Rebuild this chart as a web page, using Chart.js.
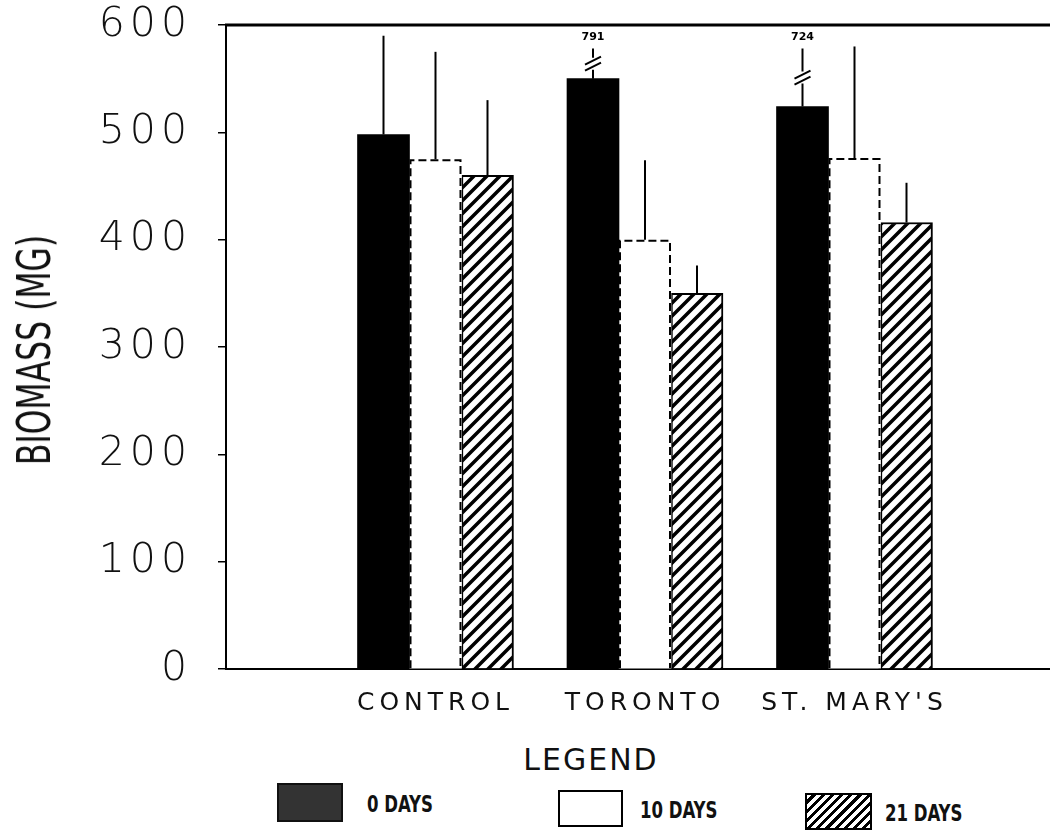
<!DOCTYPE html>
<html>
<head>
<meta charset="utf-8">
<script src="https://cdn.jsdelivr.net/npm/chart.js@4.4.0/dist/chart.umd.min.js"></script>
<style>
  html, body { margin: 0; padding: 0; background: #fff; overflow: hidden; }
  #wrap { position: relative; width: 1050px; height: 835px; overflow: hidden; }
  #graph { position: absolute; left: 0; top: 0; }
  .ytitle {
    position: absolute; left: 34px; top: 350px;
    transform: translate(-50%, -50%) rotate(-90deg) scaleX(0.76);
    font-family: 'Liberation Sans Narrow', 'DejaVu Sans Condensed', sans-serif;
    font-size: 46px; white-space: nowrap; color: #111;
  }
  .lg-title {
    position: absolute; left: 591px; top: 759px; transform: translate(-50%, -50%);
    font-family: 'DejaVu Sans', sans-serif; font-size: 30px; letter-spacing: 2px; color: #111;
  }
  .box { position: absolute; box-sizing: border-box; }
  .lg-text {
    position: absolute; transform: translateY(-50%) scaleX(0.8); transform-origin: left center;
    font-family: 'Liberation Sans Narrow', 'DejaVu Sans Condensed', sans-serif;
    font-weight: bold; font-size: 23px; color: #111; white-space: nowrap;
  }
</style>
</head>
<body>
<div id="wrap">
  <canvas id="graph" width="1080" height="740"></canvas>
  <div class="ytitle">BIOMASS (MG)</div>
  <div class="lg-title">LEGEND</div>
  <div class="box" style="left:277px; top:783px; width:66px; height:39px; background:#333; border:2px solid #111;"></div>
  <div class="lg-text" style="left:367px; top:804px;">0 DAYS</div>
  <div class="box" style="left:558px; top:790px; width:65px; height:37px; background:#fff; border:2px solid #000;"></div>
  <div class="lg-text" style="left:640px; top:810px;">10 DAYS</div>
  <div class="box" style="left:805px; top:793px; width:67px; height:37px; border:2px solid #000;
       background: repeating-linear-gradient(135deg, #fff 0 3.5px, #000 3.5px 6.5px);"></div>
  <div class="lg-text" style="left:885px; top:813px;">21 DAYS</div>
</div>
<script>
// categories and series
const categories = ['CONTROL', 'TORONTO', "ST. MARY'S"];
const seriesNames = ['0 DAYS', '10 DAYS', '21 DAYS'];
const days0 = [498, 550, 524];
const days10 = [475, 400, 476];
const days21 = [460, 350, 416];
// top of the error bar for each bar
const err0 = [590, 791, 724];
const err10 = [575, 474, 580];
const err21 = [530, 376, 453];
const yTicks = [0, 100, 200, 300, 400, 500, 600];

// empty slot at each end so the groups sit where they do in the figure
const labels = ['', ...categories, ''];
const pad = arr => [null, ...arr, null];

// diagonal hatch for the 21 day bars
function makeHatch() {
  const s = 13;
  const c = document.createElement('canvas');
  c.width = s; c.height = s;
  const g = c.getContext('2d');
  g.fillStyle = '#fff';
  g.fillRect(0, 0, s, s);
  g.strokeStyle = '#000';
  g.lineWidth = 3.5;
  g.beginPath();
  g.moveTo(-3, s + 3); g.lineTo(s + 3, -3);
  g.moveTo(-3, 3); g.lineTo(3, -3);
  g.moveTo(s - 3, s + 3); g.lineTo(s + 3, s - 3);
  g.stroke();
  return g.createPattern(c, 'repeat');
}

const data = {
  labels: labels,
  datasets: [
    {
      label: seriesNames[0],
      data: pad(days0),
      errTop: pad(err0),
      backgroundColor: '#000',
      borderWidth: 0
    },
    {
      label: seriesNames[1],
      data: pad(days10),
      errTop: pad(err10),
      backgroundColor: '#fff',
      borderWidth: 0,
      dashed: true
    },
    {
      label: seriesNames[2],
      data: pad(days21),
      errTop: pad(err21),
      backgroundColor: makeHatch(),
      borderColor: '#000',
      borderWidth: 2,
      borderSkipped: 'bottom'
    }
  ]
};

// wide letter spacing for the axis labels only
const spacing = {
  id: 'spacing',
  beforeDraw(chart) { chart.ctx.letterSpacing = '5px'; },
  beforeDatasetsDraw(chart) { chart.ctx.letterSpacing = '0px'; }
};

// frame line along the top
const topLine = {
  id: 'topLine',
  beforeDatasetsDraw(chart) {
    const { ctx, chartArea } = chart;
    ctx.save();
    ctx.strokeStyle = '#000';
    ctx.lineWidth = 3;
    ctx.beginPath();
    ctx.moveTo(chartArea.left - 1, chartArea.top);
    ctx.lineTo(chartArea.right, chartArea.top);
    ctx.stroke();
    ctx.restore();
  }
};

// dashed outline on the 10 day bars, then the error bars
const errorBars = {
  id: 'errorBars',
  afterDatasetsDraw(chart) {
    const ctx = chart.ctx;
    const y = chart.scales.y;
    ctx.save();
    ctx.strokeStyle = '#000';

    chart.data.datasets.forEach((ds, di) => {
      const meta = chart.getDatasetMeta(di);
      meta.data.forEach((bar, i) => {
        if (ds.data[i] == null) return;
        const half = bar.width / 2;

        if (ds.dashed) {
          ctx.lineWidth = 2;
          ctx.setLineDash([8, 4]);
          ctx.beginPath();
          ctx.moveTo(bar.x - half + 1, bar.base);
          ctx.lineTo(bar.x - half + 1, bar.y + 1);
          ctx.lineTo(bar.x + half - 1, bar.y + 1);
          ctx.lineTo(bar.x + half - 1, bar.base);
          ctx.stroke();
          ctx.setLineDash([]);
        }

        const e = ds.errTop[i];
        if (e == null) return;
        ctx.lineWidth = 2;
        if (e <= y.max) {
          ctx.beginPath();
          ctx.moveTo(bar.x, bar.y);
          ctx.lineTo(bar.x, y.getPixelForValue(e));
          ctx.stroke();
        } else {
          // off the scale: broken line with the value written on top
          const top = y.getPixelForValue(578);
          const mid = (bar.y + top) / 2;
          ctx.beginPath();
          ctx.moveTo(bar.x, bar.y);
          ctx.lineTo(bar.x, mid + 6);
          ctx.moveTo(bar.x, mid - 6);
          ctx.lineTo(bar.x, top);
          ctx.moveTo(bar.x - 8, mid + 1);
          ctx.lineTo(bar.x + 8, mid - 7);
          ctx.moveTo(bar.x - 8, mid + 7);
          ctx.lineTo(bar.x + 8, mid - 1);
          ctx.stroke();
          ctx.fillStyle = '#000';
          ctx.font = 'bold 11px "DejaVu Sans"';
          ctx.textAlign = 'center';
          ctx.textBaseline = 'middle';
          ctx.fillText(String(e), bar.x, y.getPixelForValue(589));
        }
      });
    });
    ctx.restore();
  }
};

const config = {
  type: 'bar',
  data: data,
  options: {
    responsive: false,
    animation: false,
    layout: { padding: { top: 25, right: 16, left: 0, bottom: 0 } },
    datasets: { bar: { barThickness: 52 } },
    plugins: {
      legend: { display: false },
      tooltip: { enabled: false }
    },
    scales: {
      x: {
        offset: false,
        grid: { display: false, drawTicks: false },
        border: { display: true, color: '#000', width: 2 },
        ticks: {
          autoSkip: false,
          maxRotation: 0,
          padding: 19,
          color: '#111',
          font: { family: 'DejaVu Sans', size: 25 }
        },
        afterFit: s => { s.height = 71; s.paddingLeft = 0; s.paddingRight = 0; }
      },
      y: {
        min: 0,
        max: 600,
        afterBuildTicks: s => { s.ticks = yTicks.map(v => ({ value: v })); },
        grid: { display: true, drawOnChartArea: false, drawTicks: true, tickLength: 8, color: '#000', lineWidth: 1.5 },
        border: { display: true, color: '#000', width: 2 },
        ticks: {
          padding: 26,
          color: '#111',
          font: { family: 'DejaVu Sans', size: 41, weight: 200 }
        },
        afterFit: s => { s.width = 226; s.paddingTop = 0; s.paddingBottom = 0; }
      }
    }
  },
  plugins: [spacing, topLine, errorBars]
};

const myChart = new Chart(document.getElementById('graph').getContext('2d'), config);
</script>
</body>
</html>
